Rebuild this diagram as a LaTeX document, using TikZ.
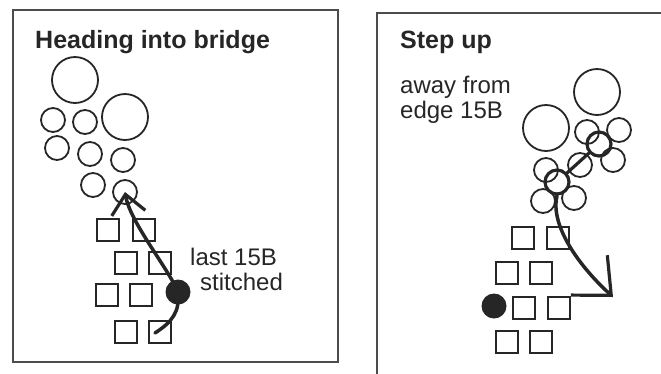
\documentclass[tikz,border=0pt]{standalone}
\usepackage{fontspec}
\setmainfont{Liberation Sans}
\usetikzlibrary{arrows.meta}

\definecolor{tinta}{gray}{0.15}
\definecolor{marco}{gray}{0.3}

\tikzset{
    cuenta/.style={circle, draw=tinta, line width=1.8pt, minimum size=24pt, inner sep=0pt},
    cuentagrande/.style={cuenta, minimum size=46pt},
    cuentahilo/.style={cuenta, line width=3.2pt},
    cubo/.style={draw=tinta, line width=1.8pt, minimum size=21.5pt, inner sep=0pt},
    punto/.style={circle, fill=tinta, minimum size=25pt, inner sep=0pt},
    titulo/.style={anchor=base west, inner sep=0pt, text=tinta, font=\fontsize{25}{26}\selectfont\bfseries},
    nota/.style={anchor=base west, inner sep=0pt, text=tinta, font=\fontsize{24}{25}\selectfont},
    hilo/.style={draw=tinta, line width=3.5pt, line cap=round}
}

\begin{document}
\begin{tikzpicture}[x=1pt, y=-1pt]
        \useasboundingbox (0,0) rectangle (661,373);
        \clip (0,0) rectangle (661,373);

        % Dibuja los marcos
        \draw[marco, line width=2.2pt] (13,10) rectangle (338,362);
        \draw[marco, line width=2.2pt] (377,380) -- (377,13) -- (670,13);

        % Panel izquierdo: titulo
        \node[titulo] (tizq) at (35,48) {Heading into bridge};

        % Cuentas redondas
        \node[cuentagrande] (g1) at (75,80) {};
        \node[cuentagrande] (g2) at (125,117) {};
        \node[cuenta] (c1) at (53,120) {};
        \node[cuenta] (c2) at (85,122) {};
        \node[cuenta] (c3) at (57,148) {};
        \node[cuenta] (c4) at (90,154) {};
        \node[cuenta] (c5) at (123,160) {};
        \node[cuenta] (c6) at (93,185) {};
        \node[cuenta] (c7) at (125,192) {};

        % Cubos 15B
        \node[cubo] (s1) at (108,230) {};
        \node[cubo] (s2) at (144,230) {};
        \node[cubo] (s3) at (126,263) {};
        \node[cubo] (s4) at (160,263) {};
        \node[cubo] (s5) at (107,295) {};
        \node[cubo] (s6) at (141,295) {};
        \node[cubo] (s7) at (126,332) {};
        \node[cubo] (s8) at (160,332) {};

        % Ultimo cubo cosido
        \node[punto] (p) at (178,292) {};
        \coordinate (ini) at (155,333);

        % Hilo hacia el puente
        \draw[hilo, -{Straight Barb[length=19pt, width=34pt, line width=3.2pt]}]
            (ini) .. controls (172,322) and (180,312) .. (p.center)
            .. controls (168,268) and (130,222) .. (c7.center);

        % Etiquetas
        \node[nota] (n1) at (190,265) {last 15B};
        \node[nota] (n2) at (200,290) {stitched};

        % Panel derecho: titulo
        \node[titulo] (tder) at (400,48) {Step up};
        \node[nota] (n3) at (400,93) {away from};
        \node[nota] (n4) at (400,118) {edge 15B};

        % Cuentas grandes
        \node[cuentagrande] (ga) at (597,92) {};
        \node[cuentagrande] (gb) at (546,128) {};

        % Petalos
        \node[cuenta] (e1) at (587,132) {};
        \node[cuenta] (e2) at (619,130) {};
        \node[cuenta] (e3) at (613,160) {};
        \node[cuenta] (e4) at (580,165) {};
        \node[cuenta] (e5) at (546,170) {};
        \node[cuenta] (e6) at (543,201) {};
        \node[cuenta] (e7) at (574,198) {};

        % Centros con hilo
        \node[cuentahilo] (k1) at (599,144) {};
        \node[cuentahilo] (k2) at (557,182) {};
        \draw[hilo, line width=3.2pt] (k2) -- (k1);

        % Cubos 15B
        \node[cubo] (r1) at (523,238) {};
        \node[cubo] (r2) at (558,238) {};
        \node[cubo] (r3) at (507,273) {};
        \node[cubo] (r4) at (541,273) {};
        \node[cubo] (r5) at (524,308) {};
        \node[cubo] (r6) at (559,308) {};
        \node[cubo] (r7) at (507,342) {};
        \node[cubo] (r8) at (541,342) {};
        \node[punto] (q) at (494,306) {};

        % Hilo hacia abajo
        \coordinate (punta) at (613,297);
        \draw[hilo, -{Straight Barb[length=30pt, width=54pt, line width=3.2pt]}]
            (k2.south) .. controls (550,225) and (578,265) .. (punta);
\end{tikzpicture}
\end{document}
